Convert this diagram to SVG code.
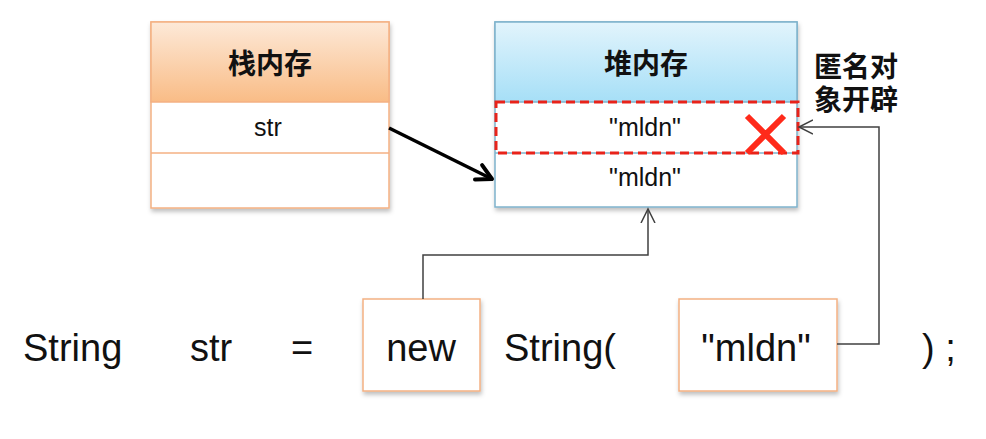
<svg xmlns="http://www.w3.org/2000/svg" width="986" height="439" viewBox="0 0 986 439">
<defs>
<linearGradient id="gOrange" x1="0" y1="0" x2="0" y2="1">
<stop offset="0" stop-color="#FDE9D8"/>
<stop offset="1" stop-color="#F9BC86"/>
</linearGradient>
<linearGradient id="gBlue" x1="0" y1="0" x2="0" y2="1">
<stop offset="0" stop-color="#E2F4FC"/>
<stop offset="1" stop-color="#A6DFF7"/>
</linearGradient>
<filter id="shadow" x="-10%" y="-10%" width="120%" height="125%">
<feDropShadow dx="1" dy="3" stdDeviation="2" flood-color="#000" flood-opacity="0.25"/>
</filter>
<marker id="openArrow" markerWidth="16" markerHeight="18" refX="14" refY="8" orient="auto" markerUnits="userSpaceOnUse" viewBox="0 0 16 16">
<path d="M0,1 L14,8 L0,15" fill="none" stroke="#404040" stroke-width="1.5"/>
</marker>
<marker id="boldArrow" markerWidth="24" markerHeight="24" refX="19" refY="12" orient="auto" markerUnits="userSpaceOnUse" viewBox="0 0 24 24">
<path d="M4,4 L19,12 L4,20" fill="none" stroke="#000" stroke-width="4" stroke-linecap="round" stroke-linejoin="round"/>
</marker>
</defs>
<style>
.orangeBox{fill:#fff;stroke:#F4B183;stroke-width:1.5}
.blueBox{fill:#fff;stroke:#7FB3CC;stroke-width:1.5}
.sep{fill:none;stroke-width:1.5}
.hdr{font-family:"Liberation Sans","Noto Sans CJK SC",sans-serif;font-weight:bold;font-size:28px;fill:#111;text-anchor:middle}
.cell{font-family:"Liberation Sans","Noto Sans CJK SC",sans-serif;font-size:25px;fill:#111;text-anchor:middle}
.code{font-family:"Liberation Sans",sans-serif;font-size:38px;fill:#111}
.note{font-family:"Liberation Sans","Noto Sans CJK SC",sans-serif;font-weight:bold;font-size:28px;fill:#111}
.conn{fill:none;stroke:#404040;stroke-width:1.5}
</style>
<rect width="986" height="439" fill="#fff"/>

<g id="stack">
<rect class="orangeBox" x="151" y="22" width="238" height="186" filter="url(#shadow)"/>
<rect x="151" y="22" width="238" height="80" fill="url(#gOrange)" stroke="#F4B183" stroke-width="1.5"/>
<line class="sep" x1="151" y1="153" x2="389" y2="153" stroke="#F4B183"/>
<text class="hdr" x="270" y="74">栈内存</text>
<text class="cell" x="268" y="136">str</text>
</g>

<g id="heap">
<rect class="blueBox" x="495" y="22" width="302" height="185" filter="url(#shadow)"/>
<rect x="495" y="22" width="302" height="80" fill="url(#gBlue)" stroke="#7FB3CC" stroke-width="1.5"/>
<line class="sep" x1="495" y1="153" x2="797" y2="153" stroke="#7FB3CC"/>
<text class="hdr" x="646" y="74">堆内存</text>
<text class="cell" x="645" y="136">"mldn"</text>
<text class="cell" x="645" y="186">"mldn"</text>
</g>

<g id="anonymous">
<rect x="496" y="102" width="302" height="51" fill="none" stroke="#E8231A" stroke-width="3" stroke-dasharray="9,5"/>
<path d="M747,116 L784,153 M784,116 L747,153" stroke="#FF2A1A" stroke-width="6" stroke-linecap="butt"/>
</g>

<g id="label">
<text class="note" x="814" y="77"><tspan x="814" y="77">匿名对</tspan><tspan x="814" y="110">象开辟</tspan></text>
</g>

<g id="newBox">
<rect class="orangeBox" x="363" y="299" width="117" height="92" filter="url(#shadow)"/>
<text class="code" x="421" y="361" text-anchor="middle">new</text>
</g>

<g id="mldnBox">
<rect class="orangeBox" x="679" y="299" width="158" height="92" filter="url(#shadow)"/>
<text class="code" x="756" y="361" text-anchor="middle">"mldn"</text>
</g>

<g id="code">
<text class="code" x="23" y="361">String</text>
<text class="code" x="190" y="361">str</text>
<text class="code" x="302" y="361" text-anchor="middle">=</text>
<text class="code" x="504" y="361">String(</text>
<text class="code" x="922" y="361">) ;</text>
</g>

<g id="connectors">
<line x1="389" y1="128" x2="492" y2="179" stroke="#000" stroke-width="3.5" marker-end="url(#boldArrow)"/>
<polyline class="conn" points="423,299 423,255 648,255 648,209" marker-end="url(#openArrow)"/>
<polyline class="conn" points="837,344 879,344 879,127 799,127" marker-end="url(#openArrow)"/>
</g>
</svg>
